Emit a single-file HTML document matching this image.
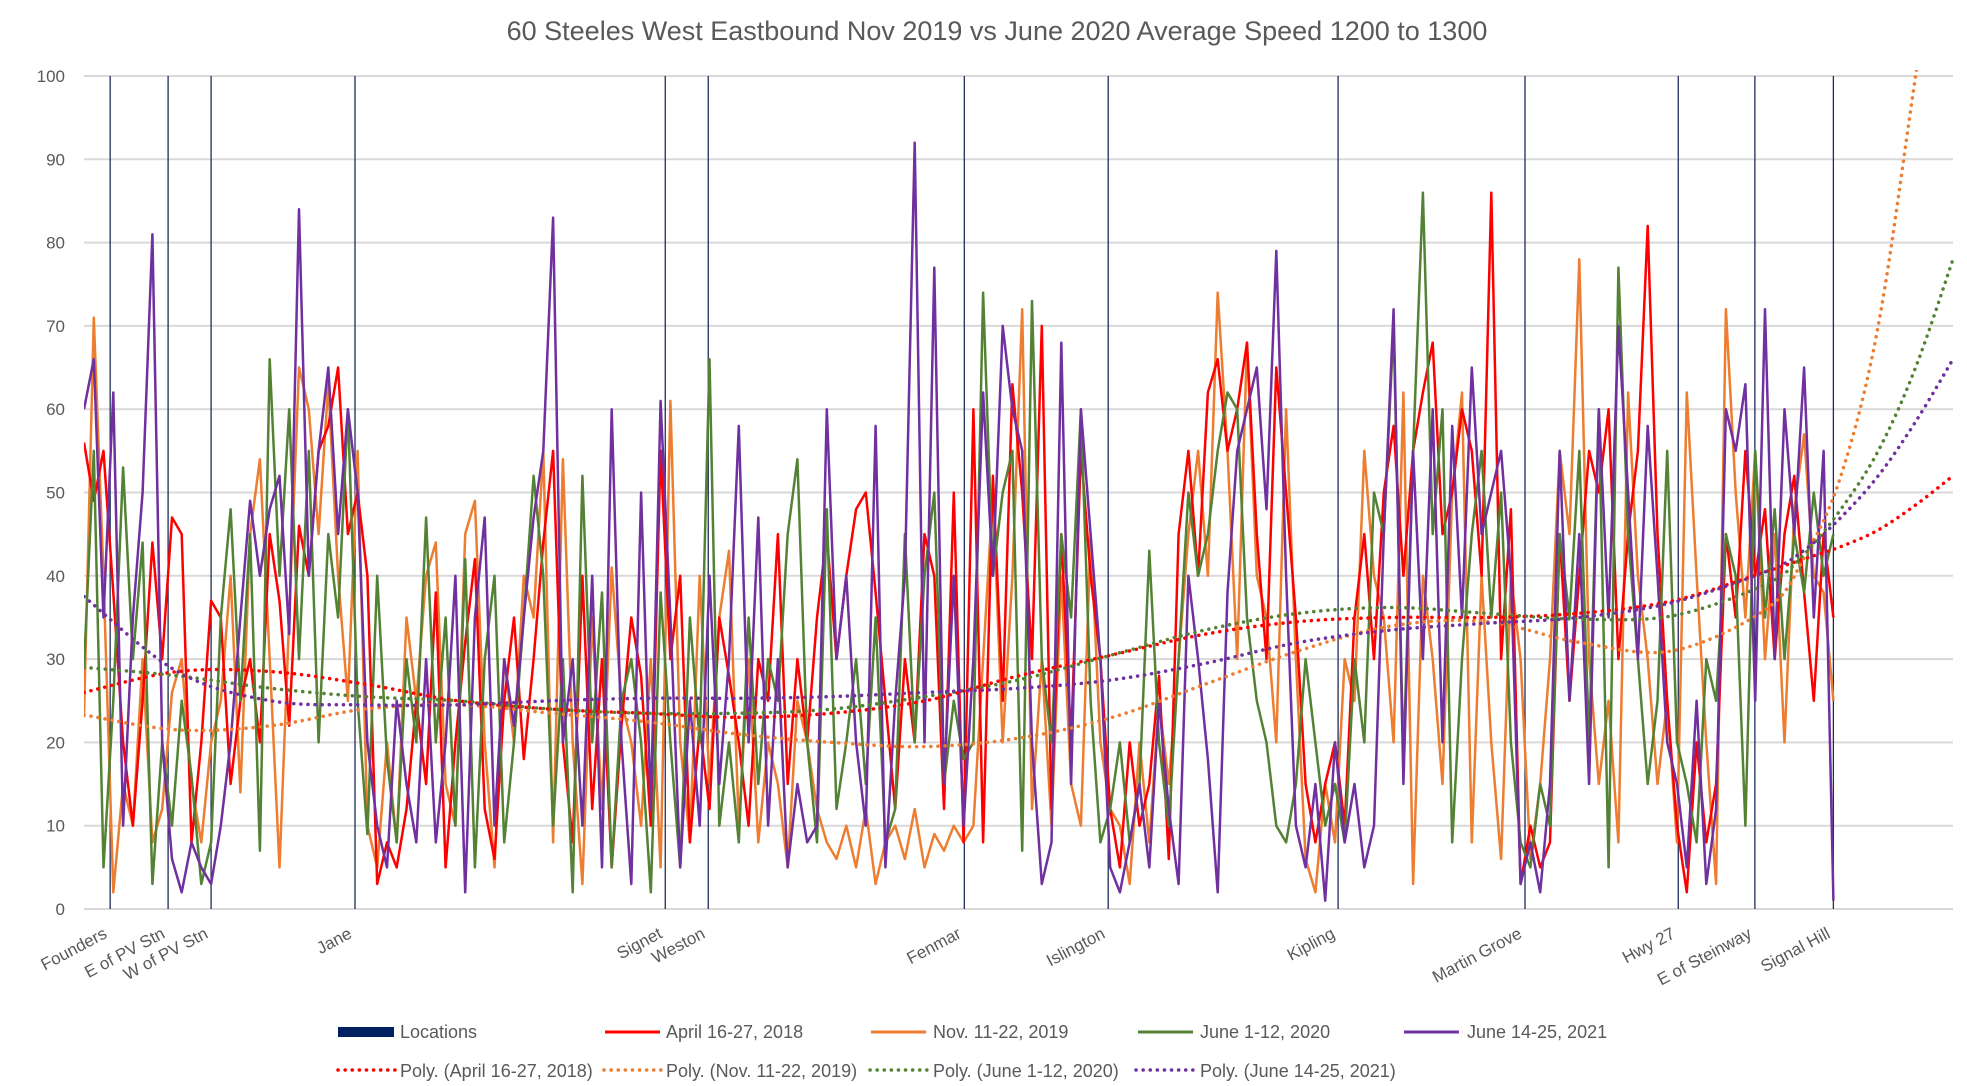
<!DOCTYPE html>
<html><head><meta charset="utf-8"><style>
html,body{margin:0;padding:0;background:#fff;}
svg{display:block;font-family:"Liberation Sans",sans-serif;}
</style></head><body>
<svg id="chart" width="1967" height="1086" viewBox="0 0 1967 1086" xmlns="http://www.w3.org/2000/svg">
<text x="997" y="40" text-anchor="middle" font-size="27" fill="#595959">60 Steeles West Eastbound Nov 2019 vs June 2020 Average Speed 1200 to 1300</text>
<g id="grid"></g><g id="vlines"></g>
<defs><clipPath id="plotclip"><rect x="84" y="70" width="1870" height="842"/></clipPath></defs>
<g id="series" clip-path="url(#plotclip)"></g>
<g id="trends" clip-path="url(#plotclip)"></g>
<g id="xlabels"></g><g id="legend"></g>
</svg>
<script>
const yTicks=[0,10,20,30,40,50,60,70,80,90,100];
const locationNames=["Founders","E of PV Stn","W of PV Stn","Jane","Signet","Weston","Fenmar","Islington","Kipling","Martin Grove","Hwy 27","E of Steinway","Signal Hill"];
const locationPos=[1.4,4.5,6.8,14.5,31.1,33.4,47.1,54.8,67.1,77.1,85.3,89.4,93.6];
const seriesNames=["April 16-27, 2018","Nov. 11-22, 2019","June 1-12, 2020","June 14-25, 2021"];
const seriesColors=["#ff0000","#ed7d31","#548235","#7030a0"];
const redVals=[56,49,55,38,20,10,25,44,30, 47,45,8,20,37, 35,15,25,30,20,45,37,22,46,40,55,58,65,45,50, 40,3,8,5,12,25, 15,38,5,20,32,42,12,6,25,35,18,30,44,55,20,8,40,12,30,5,22,35,28,10,55, 30,40,8,22,12,35,28,20,10,30,25,45,15,30,20,35, 45,30,40,48,50,38,25,12,30,20,45,40,12,50,8, 60,8,52,25,63,50,30,70,12,45,20,55,40,30,12, 5,20,10,15,28,6,45, 55,40,62,66,55,60,68,45,30,65,50,35,15,8, 15,20,10,35,45,30, 50,58,40,55,62,68,45,50,60,55,40,86,30,48,3, 10,5,8, 45,25,40,55,50,60,30,45,55,82,45,25,10, 2,20,8,15, 45,35,55,40,48,30,45,52,38,25,45,35];
const orangeVals=[23,71,40,2,15,10,30,8,12, 26,30,15,8,20, 25,40,14,45,54,30,5,35,65,60,45,63,40,25,55, 10,5,20,8,35,25, 40,44,15,10,45,49,20,5,30,20,40,35,55,8,54,20,3,35,12,41,25,20,10,30,5, 61,20,8,40,15,35,43,10,30,8,20,15,5,25,20,12, 8,6,10,5,12,3,8,10,6,12,5,9,7,10,8, 10,30,50,20,40,72,12,30,10,40,15,10,45,20,12, 10,3,20,8,25,15,30, 45,55,40,74,55,30,68,40,35,20,60,30,6,2, 15,8,30,25,55,40, 35,20,62,3,40,30,15,50,62,8,40,20,6,40,30, 6,15,30, 55,45,78,30,15,25,8,62,40,30,15,25,8, 62,40,20,3, 72,50,35,55,30,45,20,48,57,40,38,25];
const greenVals=[29,55,5,25,53,30,44,3,20, 10,25,16,3,8, 35,48,25,45,7,66,40,60,30,55,20,45,35,60,25, 9,40,18,8,30,20, 47,20,35,10,42,5,30,40,8,20,35,52,40,10,30,2,52,20,38,5,25,30,20,2,38, 20,5,35,20,66,10,20,8,35,15,30,25,45,54,20,8, 48,12,20,30,15,35,8,12,45,20,40,50,15,25,18, 20,74,40,50,55,7,73,30,20,45,35,60,25,8,12, 20,8,15,43,20,10,30, 50,40,45,55,62,60,35,25,20,10,8,15,30,20, 10,15,8,30,20,50, 45,70,18,55,86,45,60,8,30,45,55,35,50,20,8, 5,15,10, 45,35,55,20,60,5,77,45,30,15,25,55,20, 15,8,30,25, 45,40,10,55,35,48,30,45,38,50,40,45];
const purpleVals=[60,66,35,62,10,35,50,81,20, 6,2,8,5,3, 10,20,35,49,40,48,52,33,84,40,55,65,45,60,50, 20,10,5,25,15,8, 30,8,20,40,2,35,47,10,30,22,35,47,55,83,20,30,10,40,5,60,20,3,50,12,61, 35,5,25,10,40,15,30,58,20,47,10,30,5,15,8,10, 60,30,40,20,10,58,5,25,40,92,20,77,15,40,10, 30,62,40,70,60,55,20,3,8,68,15,60,45,30,5, 2,8,15,5,25,12,3, 40,30,18,2,38,55,60,65,48,79,40,10,5,15, 1,20,8,15,5,10, 45,72,15,55,30,60,20,58,35,65,45,50,55,40,3, 8,2,15, 55,25,45,15,60,35,70,50,30,58,40,20,15, 5,25,3,12, 60,55,63,25,72,30,60,45,65,35,55,1];
const trendX=[0,5,10,15,20,25,30,35,40,45,50,55,60,65,70,75,80,85,90,92,94,96,98,100];
const redTrend=[26,28.5,28.5,27,25,24,23.5,23,23.5,25,28,30.5,33,34.5,35,35,35.5,37,40.5,42,43.5,45.5,48.5,52];
const orangeTrend=[23.3,21.5,22,24,24.5,23.5,22.5,21,20,19.5,20.5,23,27,31,34,34.5,32,31,36,42,52,70,100,130];
const greenTrend=[29,28,26.5,25.5,25,24,23.5,23.5,24,25.5,27.5,30.5,33.5,35.5,36.2,35.5,34.8,35.2,39,42.5,48,55,65,78];
const purpleTrend=[37.5,28.5,25,24.5,24.5,25,25.3,25.3,25.5,26,26.5,27.5,29.5,32,33.5,34.3,35,36.8,40.5,43,47,52,58.5,66];

const L=84,R=1953,Y0=909,Y100=76;
const xs=p=>L+(R-L)*p/100;
const ys=v=>Y0-(Y0-Y100)*v/100;
const NS="http://www.w3.org/2000/svg";
function mk(tag,attrs,parent){const e=document.createElementNS(NS,tag);for(const k in attrs)e.setAttribute(k,attrs[k]);parent.appendChild(e);return e;}
const grid=document.getElementById('grid');
yTicks.forEach(t=>{
 const ln=mk('line',{x1:L,x2:R,y1:ys(t),y2:ys(t),stroke:'#d9d9d9','stroke-width':2},grid);
 
 
 const tx=mk('text',{x:65,y:ys(t)+6,'text-anchor':'end','font-size':17,fill:'#595959'},grid);
 tx.textContent=t;
 
 
});
const vl=document.getElementById('vlines'),xl=document.getElementById('xlabels');
locationNames.forEach((n,i)=>{
 const x=xs(locationPos[i]);
 const ln=mk('line',{x1:x,x2:x,y1:Y100,y2:Y0,stroke:'#1f2d5a','stroke-width':1.3},vl);
 
 
 const tx=mk('text',{x:x-2,y:Y0+28,'text-anchor':'end','font-size':17,fill:'#595959',transform:`rotate(-28 ${x-2} ${Y0+28})`},xl);
 tx.textContent=n;
 
 
});
const sg=document.getElementById('series');
const seriesVals=[redVals,orangeVals,greenVals,purpleVals];
const order=[1,0,2,3];
order.forEach(si=>{
 const v=seriesVals[si],n=v.length;
 const pts=v.map((d,i)=>xs(93.6*i/(n-1)).toFixed(1)+','+ys(d).toFixed(1)).join(' ');
 const pl=mk('polyline',{points:pts,fill:'none',stroke:seriesColors[si],'stroke-width':2.5,'stroke-linejoin':'round'},sg);
 
 
});
const tg=document.getElementById('trends');
[redTrend,orangeTrend,greenTrend,purpleTrend].forEach((t,si)=>{
 const P=t.map((v,i)=>[xs(trendX[i]),ys(v)]);
 let d='M'+P[0][0].toFixed(1)+' '+P[0][1].toFixed(1);
 for(let i=0;i<P.length-1;i++){
  const p0=P[Math.max(i-1,0)],p1=P[i],p2=P[i+1],p3=P[Math.min(i+2,P.length-1)];
  const c1=[p1[0]+(p2[0]-p0[0])/6,p1[1]+(p2[1]-p0[1])/6],c2=[p2[0]-(p3[0]-p1[0])/6,p2[1]-(p3[1]-p1[1])/6];
  d+=' C'+c1.map(n=>n.toFixed(1)).join(' ')+' '+c2.map(n=>n.toFixed(1)).join(' ')+' '+p2[0].toFixed(1)+' '+p2[1].toFixed(1);
 }
 const p=mk('path',{d:d,fill:'none',stroke:seriesColors[si],'stroke-width':3.5,'stroke-dasharray':'0.1 7','stroke-linecap':'round'},tg);
 
 
});
const lg=document.getElementById('legend');
const r=mk('rect',{x:338,y:1027,width:56,height:10,fill:'#002060'},lg);


const lt=mk('text',{x:400,y:1038,'font-size':18,fill:'#595959'},lg);
lt.textContent='Locations';


const row1x=[605,871,1138,1404],row1t=[666,933,1200,1467];
seriesNames.forEach((n,i)=>{
 const ln=mk('line',{x1:row1x[i],x2:row1x[i]+55,y1:1032,y2:1032,stroke:seriesColors[i],'stroke-width':3},lg);
 
 
 const tx=mk('text',{x:row1t[i],y:1038,'font-size':18,fill:'#595959'},lg);
 tx.textContent=n;
 
 
});
const row2x=[338,604,870,1136],row2t=[400,666,933,1200];
seriesNames.forEach((n,i)=>{
 const ln=mk('line',{x1:row2x[i],x2:row2x[i]+57,y1:1070,y2:1070,stroke:seriesColors[i],'stroke-width':3.5,'stroke-dasharray':'0.1 7','stroke-linecap':'round'},lg);
 
 
 const tx=mk('text',{x:row2t[i],y:1077,'font-size':18,fill:'#595959'},lg);
 tx.textContent='Poly. ('+n+')';
 
 
});
</script>
</body></html>
